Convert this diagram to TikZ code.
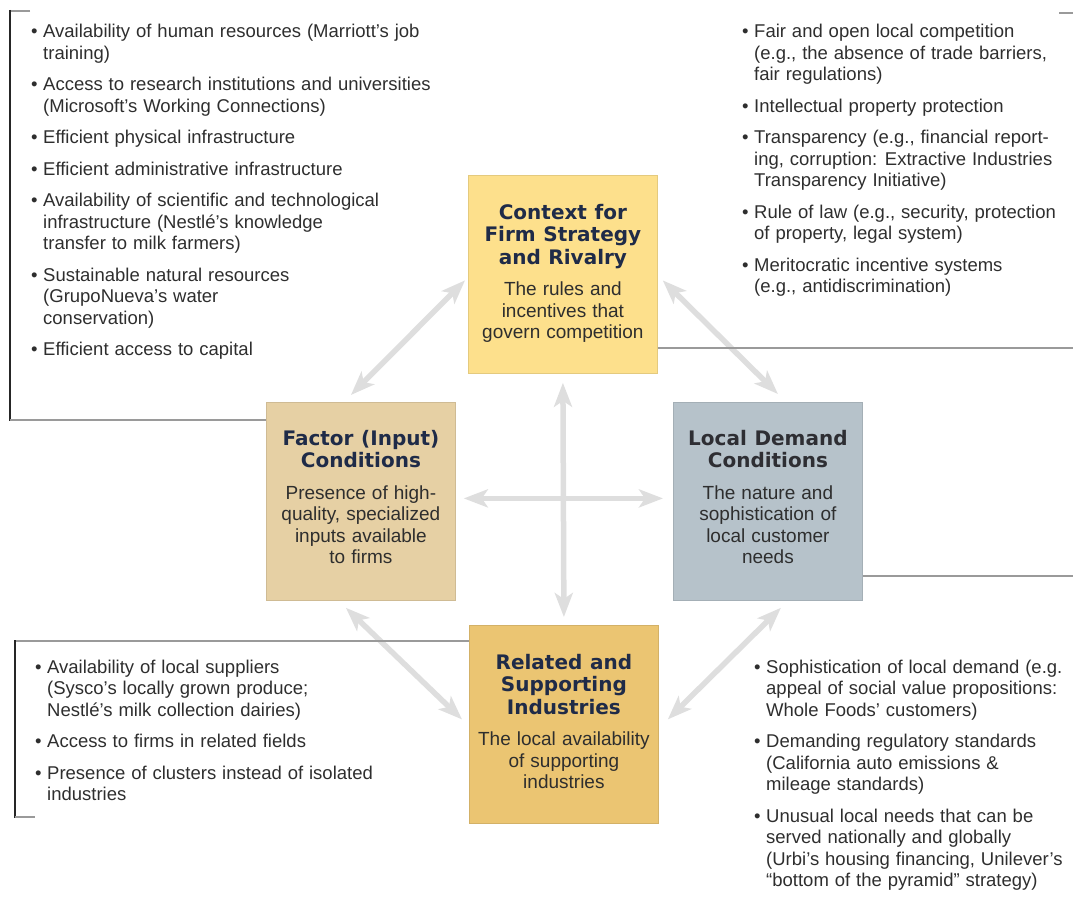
\documentclass[tikz,border=0pt]{standalone}
\usepackage{fontspec}
\setmainfont{Liberation Sans}[WordSpace=1.15]
\newfontfamily\dejavu{DejaVu Sans}[WordSpace=1.1]
\usetikzlibrary{arrows.meta}
\definecolor{ctxc}{HTML}{FDE08C}
\definecolor{facc}{HTML}{E6D0A4}
\definecolor{demc}{HTML}{B6C2CA}
\definecolor{relc}{HTML}{EBC572}
\definecolor{navy}{HTML}{1F2B48}
\definecolor{dtitle}{HTML}{2E2E33}
\definecolor{txt}{HTML}{2E2E2E}
\definecolor{arrowc}{HTML}{DEDEDE}
\definecolor{rulec}{HTML}{9A9A9A}
\newcommand\titlef{\dejavu\bfseries\fontsize{20}{22.5}\selectfont\spaceskip=\fontdimen2\font\relax}
\newcommand\bodyf{\fontsize{19}{21.5}\selectfont\spaceskip=\fontdimen2\font\relax}
\newcommand\listf{\fontsize{18.5}{21.5}\selectfont}
\newcommand\itm{\makebox[12pt][l]{\textbullet}}
\begin{document}
\begin{tikzpicture}[x=1pt,y=-1pt,
  box/.style={fill=#1, draw=#1!90!black, line width=0.8pt, minimum width=189pt, minimum height=198pt, inner sep=0pt, anchor=north west},
  boxtext/.style={text width=186pt, align=flush center, inner sep=0pt, anchor=north, text=txt},
  lst/.style={anchor=base west, inner sep=0pt, text=txt, font=\listf},
  arr/.style={draw=arrowc, line width=5.5pt, {Stealth[length=24pt,width=18pt,inset=6pt]}-{Stealth[length=24pt,width=18pt,inset=6pt]}},
  vrule/.style={draw=black!85, line width=2.2pt},
  hrule/.style={draw=rulec, line width=1.5pt},
]
\useasboundingbox (0,0) rectangle (1073,901);

% boxes
\node[box=ctxc] (ctx) at (468,175) {};
\node[box=facc] (fac) at (266,402) {};
\node[box=demc] (dem) at (673,402) {};
\node[box=relc] (rel) at (469,625) {};

% box texts
\node[boxtext] (ctxt) at ([yshift=-29pt]ctx.north) {{\titlef\color{navy}Context for\\Firm Strategy\\and Rivalry\par}\vspace{10pt}{\bodyf The rules and\\incentives that\\govern competition\par}};
\node[boxtext] (fact) at ([yshift=-28pt]fac.north) {{\titlef\color{navy}Factor (Input)\\Conditions\par}\vspace{10pt}{\bodyf Presence of high-\\quality, specialized\\inputs available\\to firms\par}};
\node[boxtext] (demt) at ([yshift=-28pt]dem.north) {{\titlef\color{dtitle}Local Demand\\Conditions\par}\vspace{10pt}{\bodyf The nature and\\sophistication of\\local customer\\needs\par}};
\node[boxtext] (relt) at ([yshift=-29pt]rel.north) {{\titlef\color{navy}Related and\\Supporting\\Industries\par}\vspace{10pt}{\bodyf The local availability\\of supporting\\industries\par}};

% arrows
\draw[arr] ([yshift=-9pt]ctx.south) -- ([yshift=8pt]rel.north);
\draw[arr] ([xshift=8pt,yshift=3pt]fac.east) -- ([xshift=-10pt,yshift=3pt]dem.west);
\draw[arr] ([xshift=-3pt,yshift=-6pt]ctx.west) -- ([xshift=-10pt,yshift=7pt]fac.north);
\draw[arr] ([xshift=5pt,yshift=-6pt]ctx.east) -- ([xshift=10pt,yshift=8pt]dem.north);
\draw[arr] ([xshift=-15pt,yshift=-7pt]fac.south) -- ([xshift=-7pt,yshift=5pt]rel.west);
\draw[arr] ([xshift=13pt,yshift=-7pt]dem.south) -- ([xshift=9pt,yshift=5pt]rel.east);

% brackets
\draw[hrule] (30,11) -- (10,11);
\draw[vrule] (10,10) -- (10,421);
\draw[hrule] (10,420) -- (fac.west |- 0,420);
\draw[hrule] (1059,13) -- (1073,13);
\draw[hrule] (ctx.east |- 0,348) -- (1073,348);
\draw[hrule] (15,641) -- (rel.west |- 0,641);
\draw[vrule] (15,640) -- (15,818);
\draw[hrule] (15,817) -- (35,817);
\draw[hrule] (dem.east |- 0,576) -- (1073,576);

% lists
\node[lst] (tl) at (31,38) {\begin{tabular}[t]{@{}l@{}l@{}}
\itm & Availability of human resources (Marriott’s job\\
 & training)\\[10pt]
\itm & Access to research institutions and universities\\
 & (Microsoft’s Working Connections)\\[10pt]
\itm & Efficient physical infrastructure\\[10pt]
\itm & Efficient administrative infrastructure\\[10pt]
\itm & Availability of scientific and technological\\
 & infrastructure (Nestlé’s knowledge\\
 & transfer to milk farmers)\\[10pt]
\itm & Sustainable natural resources\\
 & (GrupoNueva’s water\\
 & conservation)\\[10pt]
\itm & Efficient access to capital
\end{tabular}};

\node[lst] (tr) at (742,38) {\begin{tabular}[t]{@{}l@{}l@{}}
\itm & Fair and open local competition\\
 & (e.g., the absence of trade barriers,\\
 & fair regulations)\\[10pt]
\itm & Intellectual property protection\\[10pt]
\itm & Transparency (e.g., financial report-\\
 & ing, corruption: Extractive Industries\\
 & Transparency Initiative)\\[10pt]
\itm & Rule of law (e.g., security, protection\\
 & of property, legal system)\\[10pt]
\itm & Meritocratic incentive systems\\
 & (e.g., antidiscrimination)
\end{tabular}};

\node[lst] (bl) at (35,673) {\begin{tabular}[t]{@{}l@{}l@{}}
\itm & Availability of local suppliers\\
 & (Sysco’s locally grown produce;\\
 & Nestlé’s milk collection dairies)\\[10pt]
\itm & Access to firms in related fields\\[10pt]
\itm & Presence of clusters instead of isolated\\
 & industries
\end{tabular}};

\node[lst] (br) at (754,673) {\begin{tabular}[t]{@{}l@{}l@{}}
\itm & Sophistication of local demand (e.g.\\
 & appeal of social value propositions:\\
 & Whole Foods’ customers)\\[10pt]
\itm & Demanding regulatory standards\\
 & (California auto emissions \&\\
 & mileage standards)\\[10pt]
\itm & Unusual local needs that can be\\
 & served nationally and globally\\
 & (Urbi’s housing financing, Unilever’s\\
 & “bottom of the pyramid” strategy)
\end{tabular}};
\end{tikzpicture}
\end{document}
